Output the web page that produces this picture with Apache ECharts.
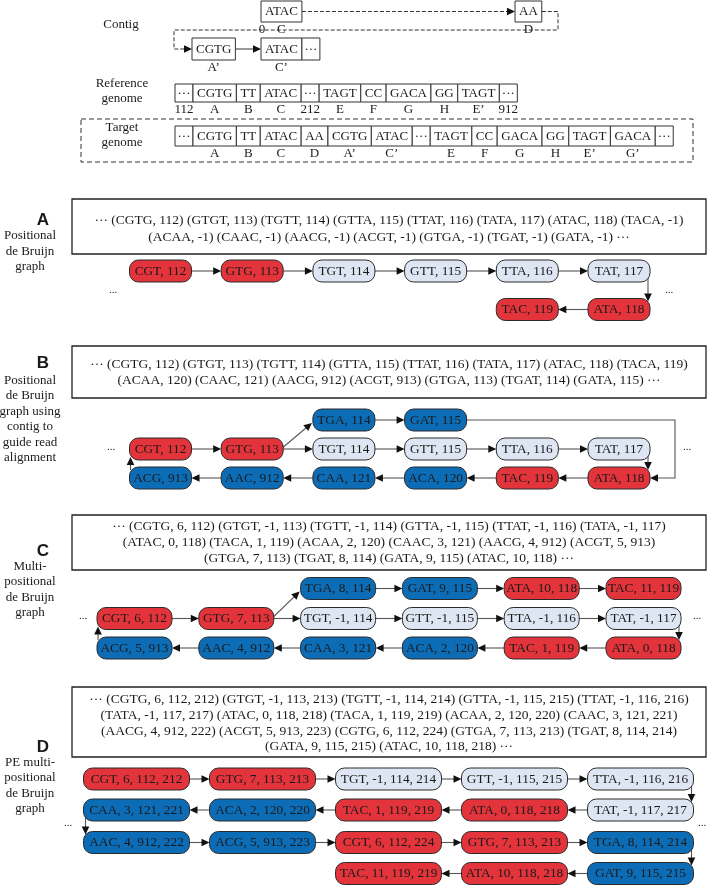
<!DOCTYPE html>
<html><head><meta charset="utf-8">
<script src="https://cdn.jsdelivr.net/npm/echarts@6/dist/echarts.min.js"></script>
<style>html,body{margin:0;padding:0;background:#fff}#c{width:708px;height:885px}</style>
</head><body><div id="c"></div>
<script>
// ================= DATA =================
const contigTopCells = ["ATAC", "AA"];
const contigTopLabels = ["C", "D"];
const contigBottomCells = ["CGTG", "ATAC", "···"];
const contigBottomLabels = ["A\u2019", "C\u2019", ""];
const refCells = ["···","CGTG","TT","ATAC","···","TAGT","CC","GACA","GG","TAGT","···"];
const refLabels = ["112","A","B","C","212","E","F","G","H","E\u2019","912"];
const targetCells = ["···","CGTG","TT","ATAC","AA","CGTG","ATAC","···","TAGT","CC","GACA","GG","TAGT","GACA","···"];
const targetLabels = ["","A","B","C","D","A\u2019","C\u2019","","E","F","G","H","E\u2019","G\u2019",""];

const sideLabelsA = ["Positional","de Bruijn","graph"];
const sideLabelsB = ["Positional","de Bruijn","graph using","contig to","guide read","alignment"];
const sideLabelsC = ["Multi-","positional","de Bruijn","graph"];
const sideLabelsD = ["PE multi-","positional","de Bruijn","graph"];

const tuplesA = [
 "··· (CGTG, 112) (GTGT, 113) (TGTT, 114) (GTTA, 115) (TTAT, 116) (TATA, 117) (ATAC, 118) (TACA, -1)",
 "(ACAA, -1) (CAAC, -1) (AACG, -1) (ACGT, -1) (GTGA, -1) (TGAT, -1) (GATA, -1) ···"];
const tuplesB = [
 "··· (CGTG, 112) (GTGT, 113) (TGTT, 114) (GTTA, 115) (TTAT, 116) (TATA, 117) (ATAC, 118) (TACA, 119)",
 "(ACAA, 120) (CAAC, 121) (AACG, 912) (ACGT, 913) (GTGA, 113) (TGAT, 114) (GATA, 115) ···"];
const tuplesC = [
 "··· (CGTG, 6, 112) (GTGT, -1, 113) (TGTT, -1, 114) (GTTA, -1, 115) (TTAT, -1, 116) (TATA, -1, 117)",
 "(ATAC, 0, 118) (TACA, 1, 119) (ACAA, 2, 120) (CAAC, 3, 121) (AACG, 4, 912) (ACGT, 5, 913)",
 "(GTGA, 7, 113) (TGAT, 8, 114) (GATA, 9, 115) (ATAC, 10, 118) ···"];
const tuplesD = [
 "··· (CGTG, 6, 112, 212) (GTGT, -1, 113, 213) (TGTT, -1, 114, 214) (GTTA, -1, 115, 215) (TTAT, -1, 116, 216)",
 "(TATA, -1, 117, 217) (ATAC, 0, 118, 218) (TACA, 1, 119, 219) (ACAA, 2, 120, 220) (CAAC, 3, 121, 221)",
 "(AACG, 4, 912, 222) (ACGT, 5, 913, 223) (CGTG, 6, 112, 224) (GTGA, 7, 113, 213) (TGAT, 8, 114, 214)",
 "(GATA, 9, 115, 215) (ATAC, 10, 118, 218) ···"];

// nodes: [label, kind(r=in ref, b=contig, l=other), column, row]
const nodesA = [
 ["CGT, 112","r",0,0],["GTG, 113","r",1,0],["TGT, 114","l",2,0],["GTT, 115","l",3,0],
 ["TTA, 116","l",4,0],["TAT, 117","l",5,0],["ATA, 118","r",5,1],["TAC, 119","r",4,1]];
const edgesA = [[0,1],[1,2],[2,3],[3,4],[4,5],[5,6,"downR"],[6,7]];

const nodesB = [
 ["TGA, 114","b",2,0],["GAT, 115","b",3,0],
 ["CGT, 112","r",0,1],["GTG, 113","r",1,1],["TGT, 114","l",2,1],["GTT, 115","l",3,1],["TTA, 116","l",4,1],["TAT, 117","l",5,1],
 ["ACG, 913","b",0,2],["AAC, 912","b",1,2],["CAA, 121","b",2,2],["ACA, 120","b",3,2],["TAC, 119","r",4,2],["ATA, 118","r",5,2]];
const edgesB = [[2,3],[3,0,"diag"],[3,4],[0,1],[1,13,"loopR"],[4,5],[5,6],[6,7],[7,13,"downR"],
 [13,12],[12,11],[11,10],[10,9],[9,8],[8,2,"up"]];

const nodesC = [
 ["TGA, 8, 114","b",2,0],["GAT, 9, 115","b",3,0],["ATA, 10, 118","r",4,0],["TAC, 11, 119","r",5,0],
 ["CGT, 6, 112","r",0,1],["GTG, 7, 113","r",1,1],["TGT, -1, 114","l",2,1],["GTT, -1, 115","l",3,1],["TTA, -1, 116","l",4,1],["TAT, -1, 117","l",5,1],
 ["ACG, 5, 913","b",0,2],["AAC, 4, 912","b",1,2],["CAA, 3, 121","b",2,2],["ACA, 2, 120","b",3,2],["TAC, 1, 119","r",4,2],["ATA, 0, 118","r",5,2]];
const edgesC = [[4,5],[5,0,"diag"],[5,6],[0,1],[1,2],[2,3],[6,7],[7,8],[8,9],[9,15,"downR"],
 [15,14],[14,13],[13,12],[12,11],[11,10],[10,4,"up"]];

const nodesD = [
 ["CGT, 6, 112, 212","r",0,0],["GTG, 7, 113, 213","r",1,0],["TGT, -1, 114, 214","l",2,0],["GTT, -1, 115, 215","l",3,0],["TTA, -1, 116, 216","l",4,0],
 ["CAA, 3, 121, 221","b",0,1],["ACA, 2, 120, 220","b",1,1],["TAC, 1, 119, 219","r",2,1],["ATA, 0, 118, 218","r",3,1],["TAT, -1, 117, 217","l",4,1],
 ["AAC, 4, 912, 222","b",0,2],["ACG, 5, 913, 223","b",1,2],["CGT, 6, 112, 224","r",2,2],["GTG, 7, 113, 213","r",3,2],["TGA, 8, 114, 214","b",4,2],
 ["TAC, 11, 119, 219","r",2,3],["ATA, 10, 118, 218","r",3,3],["GAT, 9, 115, 215","b",4,3]];
const edgesD = [[0,1],[1,2],[2,3],[3,4],[4,9,"downR"],[9,8],[8,7],[7,6],[6,5],[5,10,"downL"],
 [10,11],[11,12],[12,13],[13,14],[14,17,"downR"],[17,16],[16,15]];

// ================= LAYOUT / STYLE =================
const FONT = "'Liberation Serif','Times New Roman',serif";
const FILL = {r:"#e3333b", b:"#0d6cb6", l:"#dde6f2"};
const LINE = "#555", INK = "#1a1a1a";
const mctx = document.createElement("canvas").getContext("2d");
mctx.font = "13px 'Liberation Serif'";
const tw = t => mctx.measureText(t).width;

const shapes = [];
const R = (x,y,w,h,o) => shapes.push(Object.assign({k:"rect",x,y,w,h},o||{}));
const T = (text,x,y,o) => shapes.push(Object.assign({k:"text",text,x,y},o||{}));
const L = (pts,o) => shapes.push(Object.assign({k:"line",pts},o||{}));
function ARW(pts,o){
  const n=pts.length,[x2,y2]=pts[n-1],[x1,y1]=pts[n-2];
  const len=Math.hypot(x2-x1,y2-y1),ux=(x2-x1)/len,uy=(y2-y1)/len;
  const AL=8,AW=3.8,bx=x2-ux*AL,by=y2-uy*AL;
  L(pts.slice(0,n-1).concat([[bx+ux,by+uy]]),o);
  shapes.push({k:"poly",pts:[[x2,y2],[bx-uy*AW,by+ux*AW],[bx+uy*AW,by-ux*AW]],fill:"#111"});
}

// ---- top: sequence rows
function seqRow(cells, labels, x0, y, h){
  let x=x0; const out=[];
  cells.forEach((t,i)=>{
    const w = tw(t) + (t==="···"?5:8);
    R(x,y,w,h,{stroke:"#333",lw:1});
    T(t,x+w/2,y+h/2+0.5);
    if(labels[i]) T(labels[i],x+w/2,y+h+8);
    out.push({l:x,r:x+w,cy:y+h/2,b:y+h});
    x+=w;
  });
  return out;
}
T("Contig",121,25);
const ct1 = seqRow([contigTopCells[0]],[contigTopLabels[0]],261,1,21);
const ct2 = seqRow([contigTopCells[1]],[contigTopLabels[1]],515,1,21);
T("0",ct1[0].l+1,30);
const cb1 = seqRow([contigBottomCells[0]],[contigBottomLabels[0]],192,38,22);
const cb2 = seqRow(contigBottomCells.slice(1),contigBottomLabels.slice(1),261,38,22);
ARW([[ct1[0].r,ct1[0].cy],[ct2[0].l,ct2[0].cy]],{dash:[4,2],color:"#333"});
ARW([[ct2[0].r,ct2[0].cy],[558,ct2[0].cy],[558,30],[174,30],[174,cb1[0].cy],[cb1[0].l,cb1[0].cy]],{dash:[4,2],color:"#333"});
ARW([[cb1[0].r,cb1[0].cy],[cb2[0].l,cb2[0].cy]],{color:"#333"});

T("Reference",122,84); T("genome",122,99);
seqRow(refCells,refLabels,175,84,18);
R(81,119,612,43,{stroke:"#333",lw:1,dash:[5,3],fill:null});
T("Target",122,128); T("genome",122,143);
seqRow(targetCells,targetLabels,175,126,20);

// ---- sections
function section(cfg){
  T(cfg.letter,43,cfg.letterY,{font:"bold 17px 'Liberation Sans',Arial,sans-serif"});
  cfg.side.forEach((s,i)=>T(s,30,cfg.sideY[i]));
  R(72,cfg.box[0],634,cfg.box[1]-cfg.box[0],{stroke:"#222",lw:1.3});
  cfg.tuples.forEach((s,i)=>T(s,389,cfg.lineY[i],{font:"13.5px "+FONT}));
  const H=22;
  const nb = cfg.nodes.map(n=>{
    const cx=cfg.x0+n[2]*cfg.dx, cy=cfg.rows[n[3]];
    return {cx,cy,l:cx-cfg.w/2,r:cx+cfg.w/2,t:cy-H/2,b:cy+H/2};
  });
  cfg.edges.forEach(e=>{
    const s=nb[e[0]], t=nb[e[1]], type=e[2]||"h";
    let pts;
    if(type==="h") pts = t.cx>s.cx ? [[s.r,s.cy],[t.l,t.cy]] : [[s.l,s.cy],[t.r,t.cy]];
    else if(type==="diag") pts=[[s.r-1,s.cy-1],[t.l-1,t.cy+3]];
    else if(type==="downR") pts=[[s.r-2,s.cy+4],[s.r-2,t.t+3]];
    else if(type==="downL") pts=[[s.l+2,s.cy+4],[s.l+2,t.t+3]];
    else if(type==="up") pts=[[s.l+1,s.t+3],[s.l+1,t.b-3]];
    else if(type==="loopR") pts=[[s.r,s.cy],[cfg.loopX,s.cy],[cfg.loopX,t.cy],[t.r,t.cy]];
    ARW(pts,{color:LINE,lw:1.1});
  });
  cfg.nodes.forEach((n,i)=>{
    const b=nb[i];
    R(b.l,b.t,cfg.w,H,{r:9,fill:FILL[n[1]],stroke:"#2a2a2a",lw:1});
    T(n[0],b.cx,b.cy+0.5,{font:"13.3px "+FONT});
  });
  cfg.dots.forEach(d=>T("...",d[0],d[1],{font:"11px "+FONT}));
}
section({letter:"A",letterY:220,side:sideLabelsA,sideY:[236,252,267],box:[199,254],tuples:tuplesA,lineY:[220,237],
  nodes:nodesA,edges:edgesA,x0:160.5,dx:91.7,w:62,rows:[271,309.5],dots:[[113,290],[669,290]]});
section({letter:"B",letterY:363,side:sideLabelsB,sideY:[381,396,412,427,443,458],box:[346,398],tuples:tuplesB,lineY:[364,380],
  nodes:nodesB,edges:edgesB,x0:160.5,dx:91.7,w:62,rows:[420,449,478],loopX:675,dots:[[111,447],[687,447]]});
section({letter:"C",letterY:551,side:sideLabelsC,sideY:[567,582,598,613],box:[515,570],tuples:tuplesC,lineY:[526,542,558],
  nodes:nodesC,edges:edgesC,x0:134.5,dx:101.8,w:75,rows:[588.5,618.5,648],dots:[[83,616],[697,616]]});
section({letter:"D",letterY:747,side:sideLabelsD,sideY:[763,778,794,809],box:[687,757],tuples:tuplesD,lineY:[699,715,731,746],
  nodes:nodesD,edges:edgesD,x0:136.5,dx:126,w:106,rows:[779,810,842.5,873.5],dots:[[68,823],[702,823]]});

// ================= RENDER =================
function renderItem(params, api){
  const s = shapes[params.dataIndex];
  const C = p => api.coord(p);
  if(s.k==="rect"){
    const a=C([s.x,s.y]), b=C([s.x+s.w,s.y+s.h]);
    return {type:"rect",shape:{x:a[0],y:a[1],width:b[0]-a[0],height:b[1]-a[1],r:s.r||0},
      style:{fill:s.fill===undefined?"#fff":(s.fill||"none"),stroke:s.stroke||"#333",lineWidth:s.lw||1,lineDash:s.dash||null}};
  }
  if(s.k==="text"){
    const a=C([s.x,s.y]);
    return {type:"text",style:{text:s.text,x:a[0],y:a[1],font:s.font||("13px "+FONT),fill:s.color||INK,align:"center",verticalAlign:"middle"}};
  }
  if(s.k==="line"){
    return {type:"polyline",shape:{points:s.pts.map(C)},style:{stroke:s.color||LINE,lineWidth:s.lw||1,lineDash:s.dash||null,fill:null}};
  }
  return {type:"polygon",shape:{points:s.pts.map(C)},style:{fill:s.fill,stroke:null}};
}
const chart = echarts.init(document.getElementById("c"),null,{renderer:"canvas"});
chart.setOption({
  animation:false,
  grid:{left:0,right:0,top:0,bottom:0},
  xAxis:{type:"value",min:0,max:708,show:false},
  yAxis:{type:"value",min:0,max:885,inverse:true,show:false},
  series:[{type:"custom",coordinateSystem:"cartesian2d",clip:false,silent:true,
    data:shapes.map((s,i)=>[0,0,i]),encode:{x:0,y:1},renderItem}]
});
</script></body></html>
